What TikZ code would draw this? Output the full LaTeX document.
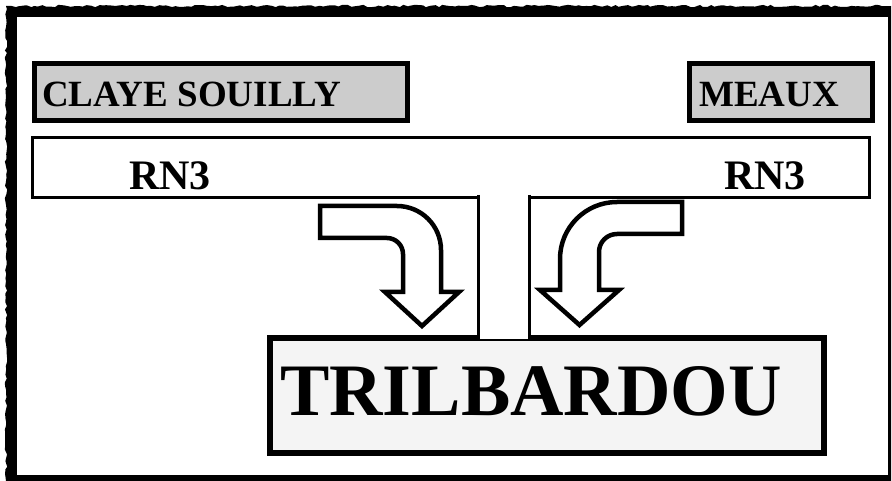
\documentclass[tikz,border=0pt]{standalone}
\usepackage{fontspec}
\setmainfont{Liberation Serif}
\usetikzlibrary{decorations.pathmorphing}
\definecolor{cityfill}{HTML}{CCCCCC}
\definecolor{townfill}{HTML}{F4F4F4}
\tikzset{
  citybox/.style={draw,line width=5pt,fill=cityfill,inner sep=0pt,anchor=north west},
  label/.style={anchor=base west,inner sep=0pt,font=\bfseries\fontsize{37}{40}\selectfont},
  turn/.style={draw,line width=4.5pt,fill=white,line join=miter}
}
\begin{document}
\begin{tikzpicture}[x=1pt,y=-1pt]
\useasboundingbox (0,0) rectangle (892,481);
\fill (891,481) -- (891,6) decorate[decoration={random steps,segment length=4pt,amplitude=1.2pt}]{-- (6,6) -- (6,481)} -- cycle;
\fill[white] (17,17) rectangle (888,475);
\node[draw,line width=3pt,fill=white,inner sep=0pt,anchor=north west,minimum width=837.5pt,minimum height=60pt] (road) at (30.5,136.5) {};
\node[draw,line width=6pt,fill=townfill,inner sep=0pt,anchor=north west,minimum width=554pt,minimum height=115pt] (town) at (267,335) {};
\fill[white] (480,190) rectangle (528,338.5);
\draw[line width=3pt] (478.5,195) -- (478.5,335) (529.5,195) -- (529.5,335);
\draw[turn] (320,206) -- (397,206) .. controls (421.3,206) and (441,225.7) .. (441,250) -- (441,292) -- (459,292) -- (422,326) -- (385,292) -- (403,292) -- (403,254) .. controls (403,245.2) and (395.8,238) .. (387,238) -- (320,238) -- cycle;
\draw[turn] (682,202) -- (617,202) .. controls (585.5,202) and (560,227.5) .. (560,259) -- (560,290) -- (540,290) -- (579.5,325) -- (619,290) -- (599,290) -- (599,252) .. controls (599,242) and (607,234) .. (617,234) -- (682,234) -- cycle;
\node[citybox,minimum width=373pt,minimum height=57pt] (claye) at (31.5,61.5) {};
\node[citybox,minimum width=183pt,minimum height=57pt] (meaux) at (686.5,61.5) {};
\node[label] (clayename) at (42,107) {CLAYE SOUILLY};
\node[label] (meauxname) at (699,107) {MEAUX};
\node[label,font=\bfseries\fontsize{42}{46}\selectfont] (roadwest) at (129,190) {RN3};
\node[label,font=\bfseries\fontsize{42}{46}\selectfont] (roadeast) at (724,190) {RN3};
\node[label,font=\bfseries\fontsize{74}{80}\selectfont] (townname) at (280,415) {TRILBARDOU};
\end{tikzpicture}
\end{document}
